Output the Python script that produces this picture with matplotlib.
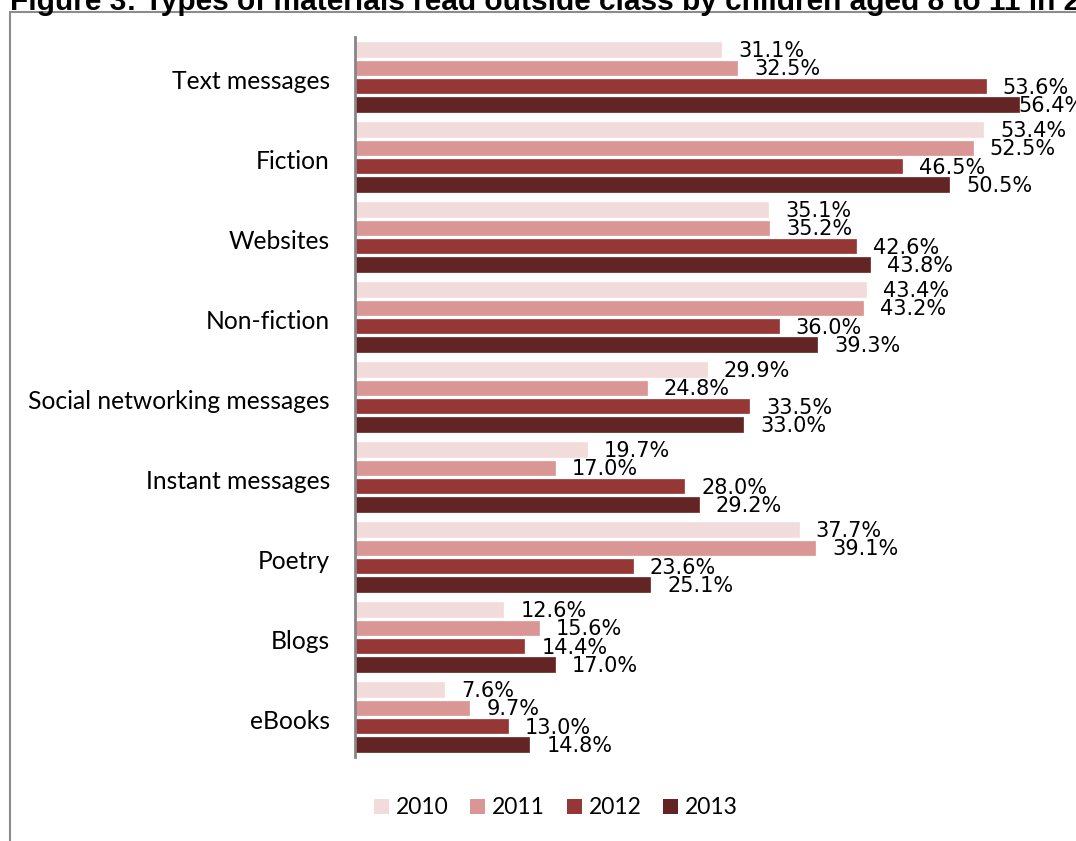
import matplotlib
matplotlib.use("Agg")
import matplotlib.pyplot as plt
import numpy as np
from matplotlib.patches import Rectangle

categories = ["Text messages", "Fiction", "Websites", "Non-fiction",
              "Social networking messages", "Instant messages", "Poetry",
              "Blogs", "eBooks"]
years = ["2010", "2011", "2012", "2013"]
v2010 = [31.1, 53.4, 35.1, 43.4, 29.9, 19.7, 37.7, 12.6, 7.6]
v2011 = [32.5, 52.5, 35.2, 43.2, 24.8, 17.0, 39.1, 15.6, 9.7]
v2012 = [53.6, 46.5, 42.6, 36.0, 33.5, 28.0, 23.6, 14.4, 13.0]
v2013 = [56.4, 50.5, 43.8, 39.3, 33.0, 29.2, 25.1, 17.0, 14.8]
series = [v2010, v2011, v2012, v2013]
colors = ["#F2DCDB", "#DA9694", "#953735", "#632523"]
title = "Figure 3: Types of materials read outside class by children aged 8 to 11 in 2010 to 2013"

W, H = 1076, 841
fig = plt.figure(figsize=(W / 100, H / 100), dpi=100)

# outer frame (cropped)
fig.patches.append(Rectangle((10 / W, -0.1), 1.2, (H - 12) / H + 0.1,
                             transform=fig.transFigure, fill=False,
                             edgecolor="#8C8C8C", linewidth=1.5))
fig.text(10 / W, 1 - 10 / H, title, fontsize=21.5, fontweight="bold",
         family="Liberation Sans", ha="left", va="baseline", color="black")

ax_left, ax_right = 355, 1061
ax_top, ax_bot = 37, 757
ax = fig.add_axes([ax_left / W, (H - ax_bot) / H, (ax_right - ax_left) / W,
                   (ax_bot - ax_top) / H])
ax.set_xlim(0, 60)
n = len(categories)
ax.set_ylim(n - 0.5, -0.5)

pitch = 0.229
bh = 0.18
y = np.arange(n)
for i, (vals, c, yr) in enumerate(zip(series, colors, years)):
    off = (i - 1.5) * pitch
    ax.barh(y + off, vals, height=bh, color=c, edgecolor=c, linewidth=0.5,
            label=yr)
    for yy, v in zip(y + off, vals):
        lx = min(v + 1.45, 56.4)
        ax.text(lx, yy + 0.02, f"{v:.1f}%", ha="left", va="center",
                fontsize=15, family="DejaVu Sans", color="black",
                clip_on=False)

ax.set_yticks(y + 0.03)
ax.set_yticklabels(categories, fontsize=17.7, family="Lato")
ax.tick_params(axis="y", length=0, pad=18)
ax.set_xticks([])
for s in ["top", "right", "bottom"]:
    ax.spines[s].set_visible(False)
ax.spines["left"].set_color("#868686")
ax.spines["left"].set_linewidth(2)
ax.set_facecolor("none")

leg = fig.legend(loc="center", bbox_to_anchor=(556 / W, 1 - 808 / H),
                 ncol=4, frameon=False, prop={"family": "Lato", "size": 16.5},
                 handlelength=0.65, handleheight=0.65, handletextpad=0.3,
                 columnspacing=0.95)
for h in leg.legend_handles:
    h.set_linewidth(0)

fig.savefig("out.png", dpi=100)
